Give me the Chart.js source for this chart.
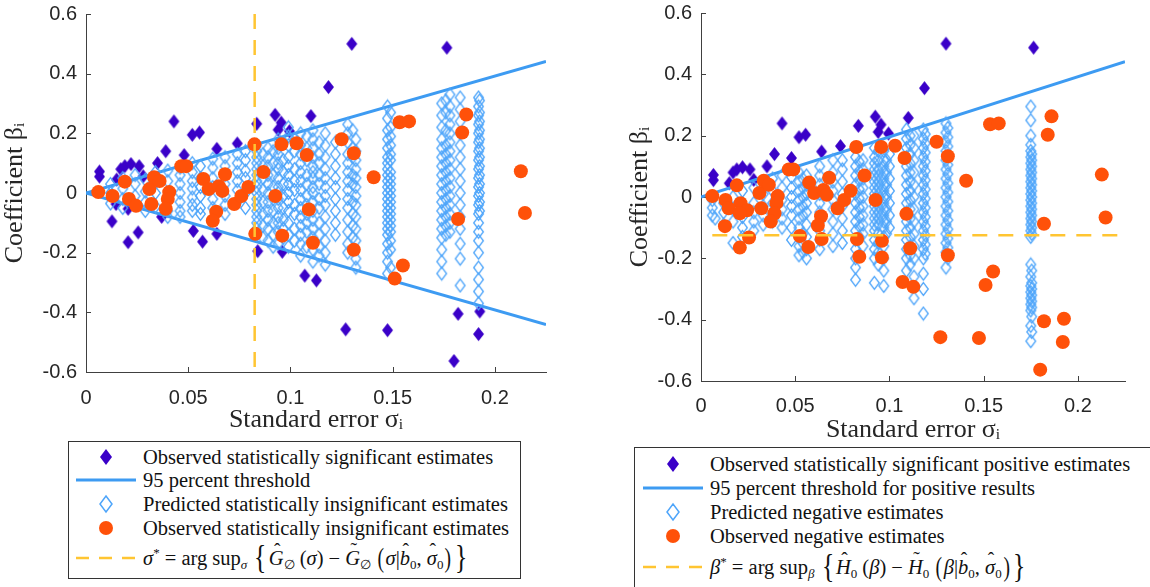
<!DOCTYPE html>
<html lang="en">
<head>
<meta charset="UTF-8">
<title>Coefficient vs standard error</title>
<script src="https://cdn.jsdelivr.net/npm/chart.js"></script>
<style>
    body { margin: 0; background: #fff; overflow: hidden; }
    #wrap { position: relative; width: 1150px; height: 587px; overflow: hidden; }
    canvas { position: absolute; top: 0; }
    .legend {
        position: absolute;
        border: 1px solid #333;
        background: #fff;
        font-family: "Liberation Serif", serif;
        font-size: 20.5px;
        color: #111;
    }
    .row { position: absolute; left: 0; height: 24px; line-height: 24px; white-space: nowrap; }
    .row svg { position: absolute; }
    .row .txt { position: absolute; }
    .big { font-size: 34px; display: inline-block; transform: scaleX(0.75); vertical-align: -3px; line-height: 20px; }
    .mid { font-size: 28px; display: inline-block; transform: scaleX(0.7); vertical-align: -2px; line-height: 20px; }
    sub { font-size: 13px; vertical-align: -4px; line-height: 0; }
    sup { font-size: 13px; vertical-align: 8px; line-height: 0; }
    /* hat / tilde accents drawn over a letter */
    .acc { position: relative; display: inline-block; }
    .acc::after {
        content: attr(data-a);
        position: absolute; left: 58%; top: -0.42em;
        transform: translateX(-50%);
        font-style: normal; font-size: 0.95em;
    }
</style>
</head>
<body>
<div id="wrap">
    <canvas id="left" width="570" height="440" style="left:0"></canvas>
    <canvas id="right" width="535" height="447" style="left:615px"></canvas>

    <div class="legend" id="legLeft" style="left:68px; top:441px; width:451px; height:136px;"></div>
    <div class="legend" id="legRight" style="left:634px; top:447px; width:560px; height:150px;"></div>
</div>

<script>
// ---- data ----
const xTicks = [0, 0.05, 0.1, 0.15, 0.2];
const xTickLabels = ['0', '0.05', '0.1', '0.15', '0.2'];
const yTicks = [-0.6, -0.4, -0.2, 0, 0.2, 0.4, 0.6];
const yTickLabels = ['-0.6', '-0.4', '-0.2', '0', '0.2', '0.4', '0.6'];

// observed statistically significant estimates (positive side)
const sigPosX = [0.0066, 0.0066, 0.015, 0.017, 0.019, 0.022, 0.026, 0.028, 0.035, 0.039, 0.043, 0.048,
                 0.052, 0.0555, 0.064, 0.074, 0.0835, 0.0925, 0.0955, 0.094, 0.0995, 0.110, 0.1186, 0.130, 0.1765];
const sigPosY = [0.072, 0.055, 0.045, 0.08, 0.09, 0.097, 0.09, 0.056, 0.1, 0.14, 0.24, 0.127,
                 0.195, 0.203, 0.148, 0.166, 0.232, 0.262, 0.236, 0.212, 0.207, 0.258, 0.355, 0.5, 0.487];
// observed statistically significant estimates (negative side)
const sigNegX = [0.0127, 0.0147, 0.0206, 0.0206, 0.0255, 0.037, 0.0525, 0.057, 0.064, 0.084, 0.096,
                 0.107, 0.1127, 0.127, 0.1475, 0.182, 0.1926, 0.192, 0.180];
const sigNegY = [-0.095, -0.037, -0.165, -0.053, -0.132, -0.08, -0.127, -0.163, -0.137, -0.195, -0.197,
                 -0.277, -0.293, -0.457, -0.46, -0.405, -0.397, -0.473, -0.563];

// observed statistically insignificant estimates
const insigX = [0.006, 0.013, 0.019, 0.021, 0.0245, 0.031, 0.032, 0.0333, 0.036, 0.0407, 0.040, 0.039,
                0.0466, 0.049, 0.0574, 0.060, 0.068, 0.065, 0.0667, 0.0637, 0.062, 0.0725, 0.076, 0.0794,
                0.0824, 0.0868, 0.0926, 0.0828, 0.0956, 0.103, 0.108, 0.109, 0.096, 0.111, 0.125, 0.131,
                0.1407, 0.1534, 0.158, 0.186, 0.184, 0.2127, 0.182, 0.2147, 0.131, 0.155, 0.151];
const insigY = [0.003, -0.01, 0.038, -0.02, -0.043, 0.013, -0.037, 0.053, 0.04, 0.003, -0.02, -0.053,
                0.09, 0.09, 0.047, 0.013, 0.063, 0.023, 0.007, -0.063, -0.093, -0.037, -0.01, 0.02,
                0.163, 0.07, -0.01, -0.137, 0.163, 0.167, 0.127, -0.055, -0.143, -0.167, 0.18, 0.133,
                0.053, 0.237, 0.24, 0.263, 0.203, 0.073, -0.087, -0.067, -0.19, -0.243, -0.287];

// predicted statistically insignificant estimates (left panel), by column
const predLeftX = [0.012, 0.018, 0.024, 0.029, 0.034, 0.040, 0.046, 0.052, 0.056, 0.062, 0.068, 0.074,
                   0.078, 0.0835, 0.089, 0.094, 0.099, 0.105, 0.111, 0.117, 0.122, 0.128, 0.132, 0.1475,
                   0.174, 0.178, 0.183, 0.192,
                   0.0865, 0.0915, 0.0965, 0.102, 0.108, 0.114, 0.1305, 0.149, 0.176, 0.1925];
const predLeftY = [
    [0.03, 0.0, -0.035],
    [0.05, 0.015, -0.02, -0.05],
    [0.06, 0.03, -0.01, -0.04],
    [0.045, 0.005, -0.03, -0.06],
    [0.07, 0.035, 0.0, -0.045],
    [0.075, 0.04, -0.01, -0.06, -0.08],
    [0.085, 0.06, 0.03, 0.0, -0.03, -0.06, -0.08],
    [0.1, 0.07, 0.04, 0.015, -0.015, -0.04, -0.06],
    [0.09, 0.05, 0.02, -0.01, -0.05, -0.07],
    [0.115, 0.085, 0.05, 0.02, -0.02, -0.05],
    [0.12, 0.09, 0.06, 0.03, -0.01, -0.04, -0.07],
    [0.13, 0.1, 0.07, 0.04, 0.01, -0.03],
    [0.14, 0.11, 0.075, 0.05, 0.0, -0.05],
    [0.16, 0.14, 0.12, 0.1, 0.08, 0.06, 0.04, 0.02, 0.0, -0.02, -0.04, -0.06, -0.08, -0.1, -0.12, -0.14],
    [0.15, 0.12, 0.09, 0.06, 0.03, 0.0, -0.03, -0.06, -0.09, -0.12, -0.16],
    [0.18, 0.15, 0.13, 0.1, 0.08, 0.05, 0.02, 0.0, -0.02, -0.05, -0.08, -0.1, -0.13, -0.17],
    [0.22, 0.19, 0.16, 0.12, 0.09, 0.06, 0.03, 0.0, -0.03, -0.06, -0.1, -0.14, -0.18],
    [0.2, 0.16, 0.13, 0.1, 0.07, 0.04, 0.01, -0.02, -0.05, -0.08, -0.11, -0.14, -0.17, -0.21],
    [0.21, 0.18, 0.15, 0.12, 0.09, 0.07, 0.05, 0.02, 0.0, -0.03, -0.06, -0.09, -0.12, -0.15, -0.19, -0.23],
    [0.2, 0.16, 0.12, 0.08, 0.05, 0.02, -0.01, -0.04, -0.08, -0.12, -0.16, -0.2, -0.24],
    [0.17, 0.13, 0.09, 0.05, 0.02, -0.02, -0.06, -0.1, -0.14],
    [0.23, 0.2, 0.17, 0.13, 0.1, 0.07, 0.04, 0.01, -0.02, -0.05, -0.09, -0.13, -0.17, -0.2],
    [0.18, 0.14, 0.11, 0.08, 0.05, 0.02, -0.01, -0.04, -0.08, -0.12, -0.16, -0.22, -0.25],
    [0.29, 0.25, 0.21, 0.18, 0.15, 0.12, 0.1, 0.08, 0.06, 0.04, 0.02, 0.0, -0.02, -0.04, -0.06, -0.08,
     -0.1, -0.12, -0.14, -0.17, -0.2, -0.23, -0.27],
    [0.3, 0.26, 0.22, 0.18, 0.15, 0.12, 0.09, 0.06, 0.03, 0.0, -0.03, -0.06, -0.09, -0.12, -0.15, -0.19, -0.23, -0.27],
    [0.33, 0.29, 0.26, 0.23, 0.2, 0.17, 0.14, 0.11, 0.08, 0.05, 0.02, -0.01, -0.04, -0.07, -0.1, -0.13],
    [0.32, 0.28, 0.24, 0.2, 0.16, 0.12, 0.08, 0.04, 0.0, -0.04, -0.08, -0.12, -0.17, -0.22, -0.31],
    [0.32, 0.29, 0.26, 0.23, 0.2, 0.17, 0.14, 0.11, 0.08, 0.05, 0.02, -0.01, -0.04, -0.07, -0.1, -0.13,
     -0.16, -0.2, -0.25, -0.29, -0.33, -0.37],
    [0.13, 0.09, 0.05, 0.01, -0.03, -0.07, -0.11, -0.15],
    [0.14, 0.1, 0.06, 0.02, -0.02, -0.06, -0.1, -0.14, -0.18],
    [0.17, 0.11, 0.07, 0.03, -0.01, -0.05, -0.09, -0.12, -0.15],
    [0.18, 0.14, 0.08, 0.04, 0.01, -0.04, -0.07, -0.12, -0.16],
    [0.19, 0.15, 0.11, 0.06, 0.03, -0.01, -0.04, -0.07, -0.1, -0.13, -0.18],
    [0.17, 0.13, 0.1, 0.06, 0.03, -0.02, -0.05, -0.1, -0.14, -0.18, -0.21],
    [0.21, 0.15, 0.12, 0.06, 0.03, -0.03, -0.07, -0.11, -0.15, -0.19],
    [0.27, 0.22, 0.19, 0.16, 0.13, 0.11, 0.07, 0.05, 0.03, 0.01, -0.01, -0.03, -0.05, -0.07, -0.09,
     -0.11, -0.13, -0.16, -0.19, -0.25],
    [0.31, 0.27, 0.21, 0.16, 0.13, 0.1, 0.07, 0.04, 0.01, -0.02, -0.05, -0.08, -0.11, -0.14],
    [0.31, 0.27, 0.24, 0.21, 0.18, 0.15, 0.12, 0.09, 0.06, 0.03, 0.0, -0.03, -0.06]
];

// predicted negative estimates (right panel), by column
const predRightX = [0.006, 0.0075, 0.012, 0.017, 0.022, 0.028, 0.033, 0.038, 0.043, 0.048, 0.052, 0.056,
                    0.063, 0.070, 0.075, 0.082, 0.086, 0.092, 0.097, 0.100, 0.109, 0.113, 0.118, 0.130, 0.175,
                    0.054, 0.084, 0.094, 0.0985, 0.111, 0.119, 0.131, 0.1755];
const predRightY = [
    [-0.01, -0.035, -0.06],
    [-0.07],
    [-0.02, -0.05, -0.09],
    [0.0, -0.04, -0.08, -0.15],
    [0.02, -0.03, -0.065, -0.1, -0.13],
    [0.03, -0.02, -0.05, -0.08, -0.11],
    [0.05, 0.01, -0.03, -0.06, -0.09],
    [0.06, 0.02, -0.02, -0.05, -0.08],
    [0.07, 0.03, -0.01, -0.04, -0.07, -0.1],
    [0.065, 0.03, 0.0, -0.03, -0.06, -0.1, -0.14],
    [0.08, 0.05, 0.02, -0.01, -0.04, -0.07, -0.1, -0.13, -0.16, -0.19],
    [0.07, 0.04, 0.01, -0.02, -0.05, -0.09, -0.13, -0.17, -0.2],
    [0.1, 0.07, 0.04, 0.01, -0.02, -0.05, -0.08, -0.11, -0.14, -0.17],
    [0.12, 0.08, 0.05, 0.02, -0.01, -0.04, -0.08, -0.12, -0.16],
    [0.12, 0.09, 0.05, 0.01, -0.03, -0.07, -0.11, -0.15],
    [0.13, 0.1, 0.07, 0.04, 0.01, -0.02, -0.05, -0.08, -0.11, -0.14, -0.17, -0.2, -0.23, -0.27],
    [0.12, 0.09, 0.06, 0.03, 0.0, -0.03, -0.06, -0.09, -0.12, -0.16],
    [0.16, 0.13, 0.11, 0.09, 0.07, 0.05, 0.03, 0.01, -0.01, -0.03, -0.05, -0.07, -0.09, -0.11, -0.14, -0.17, -0.2, -0.28],
    [0.15, 0.12, 0.1, 0.08, 0.06, 0.04, 0.02, 0.0, -0.02, -0.04, -0.06, -0.08, -0.1, -0.13, -0.16, -0.2, -0.24, -0.29],
    [0.14, 0.1, 0.06, 0.02, -0.02, -0.06, -0.1],
    [0.22, 0.19, 0.16, 0.13, 0.1, 0.07, 0.04, 0.01, -0.02, -0.05, -0.08, -0.11, -0.14, -0.17, -0.2, -0.24],
    [0.2, 0.16, 0.12, 0.08, 0.04, 0.0, -0.04, -0.08, -0.12, -0.16, -0.2, -0.26, -0.33],
    [0.22, 0.19, 0.16, 0.13, 0.1, 0.07, 0.04, 0.01, -0.02, -0.05, -0.08, -0.11, -0.14, -0.17, -0.2, -0.25, -0.3, -0.38],
    [0.24, 0.21, 0.18, 0.15, 0.12, 0.09, 0.06, 0.03, 0.0, -0.03, -0.06, -0.09, -0.12, -0.15, -0.18, -0.23],
    [0.295, 0.25, 0.2, 0.17, 0.15, 0.13, 0.11, 0.09, 0.07, 0.05, 0.03, 0.01, -0.01, -0.03, -0.05, -0.07,
     -0.09, -0.11, -0.13, -0.22, -0.26, -0.29, -0.31, -0.33, -0.35, -0.37, -0.42, -0.47],
    [0.06, 0.03, 0.0, -0.03, -0.06, -0.12, -0.15, -0.18],
    [0.115, 0.085, 0.055, 0.025, -0.005, -0.035, -0.065, -0.095, -0.13, -0.19],
    [0.15, 0.12, 0.09, 0.07, 0.05, 0.03, 0.01, -0.01, -0.03, -0.05, -0.07, -0.09, -0.12, -0.15, -0.18, -0.22],
    [0.12, 0.08, 0.04, 0.0, -0.04, -0.08, -0.12],
    [0.2, 0.17, 0.14, 0.11, 0.08, 0.05, 0.02, -0.01, -0.04, -0.07, -0.1, -0.13, -0.16, -0.19, -0.22],
    [0.205, 0.175, 0.145, 0.115, 0.085, 0.055, 0.025, -0.005, -0.035, -0.065, -0.095, -0.125, -0.155, -0.185],
    [0.225, 0.195, 0.165, 0.135, 0.105, 0.075, 0.045, 0.015, -0.015, -0.045, -0.075, -0.105, -0.135, -0.165, -0.2],
    [0.14, 0.12, 0.1, 0.08, 0.06, 0.04, 0.02, 0.0, -0.02, -0.04, -0.06, -0.08, -0.1, -0.12,
     -0.24, -0.28, -0.3, -0.32, -0.34, -0.36, -0.39, -0.44]
];

// 95 percent threshold (1.96 sigma)
const thresholdX = [0, 0.225];
const thresholdUpY = [0, 0.441];
const thresholdLowY = [0, -0.441];

// sigma* (left) and beta* (right)
const sigmaStarX = [0.0825, 0.0825];
const sigmaStarY = [0.6, -0.6];
const betaStarX = [0.006, 0.225];
const betaStarY = [-0.125, -0.125];

// ---- colours ----
const cSig = '#3a00c8';
const cLine = '#3d9bf2';
const cPred = '#4ea5fa';
const cObs = '#ff5109';
const cStar = '#ffc532';
const cAxis = '#404040';

// ---- helpers ----
function pts(xs, ys) {
    return xs.map((x, i) => ({x: x, y: ys[i]}));
}
function cols(xs, yss) {
    const out = [];
    xs.forEach((x, i) => yss[i].forEach(y => out.push({x: x, y: y})));
    return out;
}
function diamond(w, h, fill, stroke, lw) {
    const c = document.createElement('canvas');
    c.width = w + 2;
    c.height = h + 2;
    const g = c.getContext('2d');
    const m = 1 + (lw || 0) / 2;
    g.beginPath();
    g.moveTo(c.width / 2, m);
    g.lineTo(c.width - m, c.height / 2);
    g.lineTo(c.width / 2, c.height - m);
    g.lineTo(m, c.height / 2);
    g.closePath();
    if (fill) { g.fillStyle = fill; g.fill(); }
    if (stroke) { g.strokeStyle = stroke; g.lineWidth = lw; g.stroke(); }
    return c;
}
const sigMarker = diamond(11, 14, cSig);
const predMarker = diamond(11, 14, null, cPred, 1.3);

// inward tick marks, MATLAB style
const inwardTicks = {
    id: 'inwardTicks',
    beforeDatasetsDraw(chart) {
        const {ctx, chartArea, scales} = chart;
        ctx.save();
        ctx.strokeStyle = cAxis;
        ctx.lineWidth = 1;
        ctx.beginPath();
        scales.x.ticks.forEach(t => {
            const px = Math.round(scales.x.getPixelForValue(t.value)) + 0.5;
            ctx.moveTo(px, chartArea.bottom);
            ctx.lineTo(px, chartArea.bottom - 5);
        });
        scales.y.ticks.forEach(t => {
            const py = Math.round(scales.y.getPixelForValue(t.value)) + 0.5;
            ctx.moveTo(chartArea.left, py);
            ctx.lineTo(chartArea.left + 5, py);
        });
        ctx.stroke();
        ctx.restore();
    }
};

function makeChart(id, opt) {
    const tickFont = {family: '"Liberation Sans", Arial, sans-serif', size: 20};
    const titleFont = {family: '"Liberation Serif", serif', size: 26, lineHeight: 1.2};
    return new Chart(document.getElementById(id), {
        type: 'scatter',
        data: {datasets: opt.datasets},
        options: {
            responsive: false,
            animation: false,
            devicePixelRatio: 1,
            layout: {padding: {left: 0, top: opt.top, right: opt.right, bottom: 0}},
            plugins: {legend: {display: false}, tooltip: {enabled: false}},
            scales: {
                x: {
                    type: 'linear', min: 0, max: 0.225,
                    grid: {display: false, drawTicks: false},
                    border: {display: true, color: cAxis, width: 1},
                    afterBuildTicks: s => { s.ticks = xTicks.map(v => ({value: v})); },
                    afterFit: s => {
                        s.height = opt.xh;
                        s.paddingLeft = 0; s.paddingRight = 0;
                    },
                    ticks: {
                        font: tickFont, color: '#262626', padding: opt.xpad,
                        callback: v => xTickLabels[xTicks.indexOf(v)]
                    },
                    title: {
                        display: true, text: 'Standard error σᵢ', font: titleFont, color: '#262626',
                        padding: {top: 0, bottom: opt.xtb}
                    }
                },
                y: {
                    type: 'linear', min: -0.6, max: 0.6,
                    grid: {display: false, drawTicks: false},
                    border: {display: true, color: cAxis, width: 1},
                    afterBuildTicks: s => { s.ticks = yTicks.map(v => ({value: v})); },
                    afterFit: s => {
                        s.width = 86;
                        s.paddingTop = 0; s.paddingBottom = 0;
                    },
                    ticks: {
                        font: tickFont, color: '#262626', padding: 9,
                        callback: v => yTickLabels[yTicks.indexOf(v)]
                    },
                    title: {
                        display: true, text: 'Coefficient βᵢ', font: titleFont, color: '#262626',
                        padding: {top: opt.ytt, bottom: 0}
                    }
                }
            }
        },
        plugins: [inwardTicks]
    });
}

function lineSet(xs, ys, color, width, dash, order) {
    return {
        type: 'line', data: pts(xs, ys), showLine: true, fill: false,
        borderColor: color, borderWidth: width, borderDash: dash || [],
        pointRadius: 0, order: order
    };
}
function markSet(data, style, order) {
    return {
        data: data, pointStyle: style, pointRadius: 7, pointHoverRadius: 7,
        backgroundColor: cObs, borderColor: cObs, borderWidth: 0, order: order
    };
}

// left panel
makeChart('left', {
    top: 14, right: 24, xh: 68, xpad: 14, xtb: 4, ytt: 0,
    datasets: [
        markSet(pts(sigPosX.concat(sigNegX), sigPosY.concat(sigNegY)), sigMarker, 5),
        lineSet(thresholdX, thresholdUpY, cLine, 3, null, 4),
        lineSet(thresholdX, thresholdLowY, cLine, 3, null, 4),
        markSet(cols(predLeftX, predLeftY), predMarker, 3),
        markSet(pts(insigX, insigY), 'circle', 2),
        lineSet(sigmaStarX, sigmaStarY, cStar, 2.5, [15, 11], 1)
    ]
});

// right panel
makeChart('right', {
    top: 13, right: 25, xh: 66, xpad: 13, xtb: 1, ytt: 10,
    datasets: [
        markSet(pts(sigPosX, sigPosY), sigMarker, 5),
        lineSet(thresholdX, thresholdUpY, cLine, 3, null, 4),
        markSet(cols(predRightX, predRightY), predMarker, 3),
        markSet(pts(insigX.concat(sigNegX), insigY.concat(sigNegY)), 'circle', 2),
        lineSet(betaStarX, betaStarY, cStar, 2.5, [15, 11], 1)
    ]
});

// ---- legends ----
const symDiamond = `<svg width="14" height="18" style="left:-7px;top:3px"><polygon points="7,1 13,9 7,17 1,9" fill="${cSig}"/></svg>`;
const symLine = `<svg width="60" height="6" style="left:-30px;top:9px"><line x1="0" y1="3" x2="60" y2="3" stroke="${cLine}" stroke-width="3"/></svg>`;
const symHollow = `<svg width="16" height="20" style="left:-8px;top:2px"><polygon points="8,2 14,10 8,18 2,10" fill="none" stroke="${cPred}" stroke-width="1.5"/></svg>`;
const symCircle = `<svg width="16" height="16" style="left:-8px;top:4px"><circle cx="8" cy="8" r="7" fill="${cObs}"/></svg>`;
const symDash = `<svg width="60" height="6" style="left:-30px;top:9px"><line x1="0" y1="3" x2="60" y2="3" stroke="${cStar}" stroke-width="2.5" stroke-dasharray="13 10"/></svg>`;

const hat = s => `<i class="acc" data-a="ˆ">${s}</i>`;
const tilde = s => `<i class="acc" data-a="˜">${s}</i>`;

const leftLegendText = [
    'Observed statistically significant estimates',
    '95 percent threshold',
    'Predicted statistically insignificant estimates',
    'Observed statistically insignificant estimates',
    `<i>σ</i><sup>*</sup> = arg sup<sub><i>σ</i></sub> <span class="big">{</span>${hat('G')}<sub>∅</sub> (<i>σ</i>) − ${tilde('G')}<sub>∅</sub> <span class="mid">(</span><i>σ</i>|${hat('b')}<sub>0</sub>, ${hat('σ')}<sub>0</sub><span class="mid">)</span><span class="big">}</span>`
];
const rightLegendText = [
    'Observed statistically significant positive estimates',
    '95 percent threshold for positive results',
    'Predicted negative estimates',
    'Observed negative estimates',
    `<i>β</i><sup>*</sup> = arg sup<sub><i>β</i></sub> <span class="big">{</span>${hat('H')}<sub>0</sub> (<i>β</i>) − ${tilde('H')}<sub>0</sub> <span class="mid">(</span><i>β</i>|${hat('b')}<sub>0</sub>, ${hat('σ')}<sub>0</sub><span class="mid">)</span><span class="big">}</span>`
];
const legendSyms = [symDiamond, symLine, symHollow, symCircle, symDash];

function buildLegend(id, texts, centers, symX, textX) {
    const box = document.getElementById(id);
    texts.forEach((t, i) => {
        const row = document.createElement('div');
        row.className = 'row';
        row.style.top = (centers[i] - 12) + 'px';
        row.innerHTML = `<span style="position:absolute;left:${symX}px;top:0">${legendSyms[i]}</span>` +
                        `<span class="txt" style="left:${textX}px">${t}</span>`;
        box.appendChild(row);
    });
}
buildLegend('legLeft', leftLegendText, [15, 38, 62, 86, 116], 37, 74);
buildLegend('legRight', rightLegendText, [16, 40, 64, 88, 119], 38, 75);
</script>
</body>
</html>
